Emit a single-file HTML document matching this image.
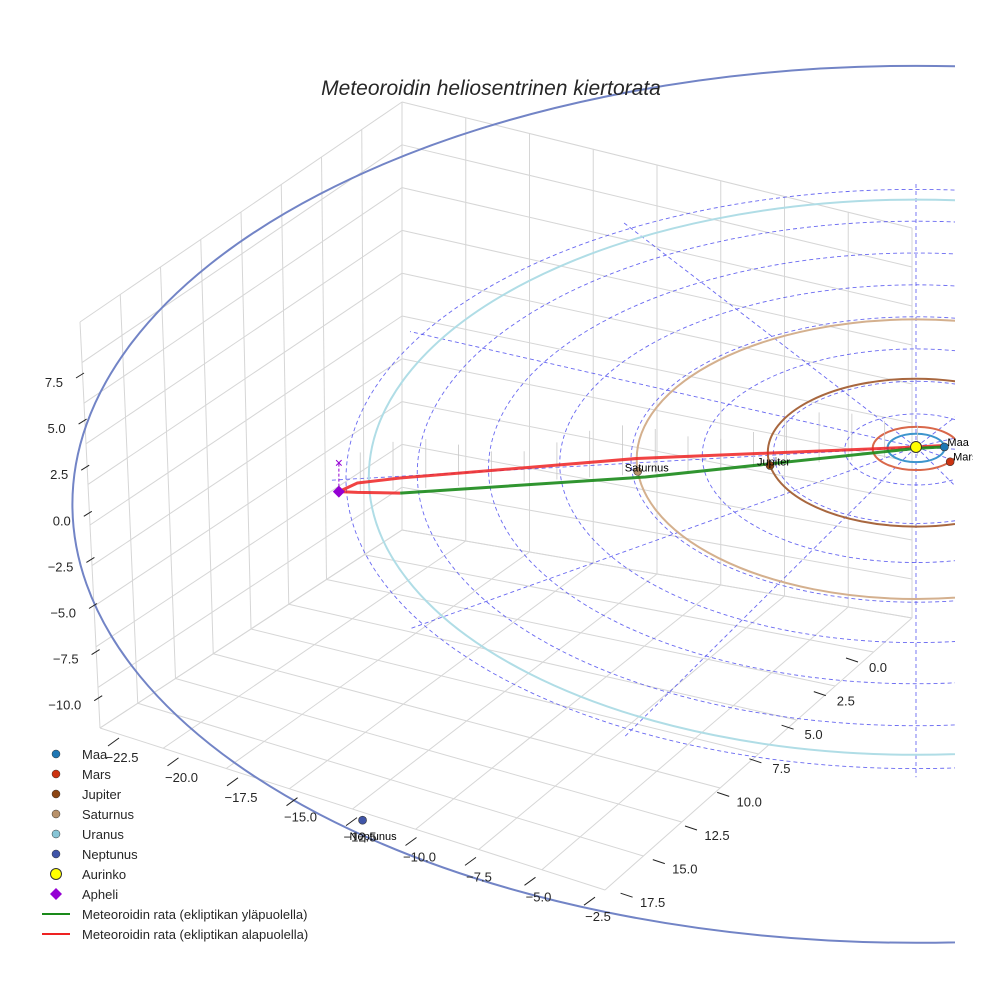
<!DOCTYPE html>
<html><head><meta charset="utf-8"><style>
body{margin:0;background:#fff}
svg{display:block;font-family:"Liberation Sans",sans-serif}
</style></head><body>
<svg id="c" width="984" height="984" viewBox="0 0 984 984">
<defs><clipPath id="clip"><rect x="0" y="0" width="955" height="984"/></clipPath>
<clipPath id="clip2"><rect x="0" y="0" width="973" height="984"/></clipPath></defs>
<g id="grid"></g>
<g id="plot" clip-path="url(#clip)"></g>
<g id="labels" clip-path="url(#clip2)"></g>
<g id="ticks"></g>
<text x="491" y="95" text-anchor="middle" font-size="21" font-style="italic" fill="#262626">Meteoroidin heliosentrinen kiertorata</text>
<g id="legend"></g>
</svg>
<script>
// data
const planetNames = ["Maa","Mars","Jupiter","Saturnus","Uranus","Neptunus"];
const planetA = [1.0,1.52,5.2,9.8,19.2,29.6];
const planetAngleDeg = [-4,38,170,175,-60,131];
const planetColors = ["#1f77b4","#cc3311","#8b4513","#b8916a","#87c5d6","#4055a8"];
const orbitColors = ["#3d95cc","#d9684a","#a8673f","#d4b08e","#b0dde6","#7284c6"];
const showPlanet = [true,true,true,true,false,true];
const ringRadii = [2.5,5,7.5,10,12.5,15,17.5,20];
const radialAngles = [0,30,60,90,120,150,180,210,240,270,300,330];
const zTicks = ["7.5","5.0","2.5","0.0","\u22122.5","\u22125.0","\u22127.5","\u221210.0"];
const xTicks = ["\u221222.5","\u221220.0","\u221217.5","\u221215.0","\u221212.5","\u221210.0","\u22127.5","\u22125.0","\u22122.5"];
const yTicks = ["0.0","2.5","5.0","7.5","10.0","12.5","15.0","17.5"];
const aphelionX = -20.25;
const aphelionY = 3.1;
const upperPathX = [-20.25,-19.6,-18.1,-9.8,0,0.9];
const upperPathY = [3.1,2.5,2.15,0.8,0.0,-0.1];
const lowerPathX = [-20.25,-19.6,-18.1,-9.5,0,0.9];
const lowerPathY = [3.1,3.15,3.2,2.08,0.1,0.0];

const NS="http://www.w3.org/2000/svg";
function mk(parent,tag,attrs){const e=document.createElementNS(NS,tag);for(const k in attrs)e.setAttribute(k,attrs[k]);parent.appendChild(e);return e;}
const SX=916,SY=447,KX=28.5,KY=14.4;
function cyOf(r){return SY+0.035*r*r+0.9*r;}
function kyOf(r){return 14.2+0.0007*r*r;}
function ptOn(r,deg){const t=deg*Math.PI/180;return [SX+KX*r*Math.cos(t),cyOf(r)+kyOf(r)*r*Math.sin(t)];}
function px(x){return SX+KX*x;}
function py(x,y){return SY+KY*y;}

const G=document.getElementById('grid');
function lerp(a,b,t){return [a[0]+(b[0]-a[0])*t,a[1]+(b[1]-a[1])*t];}
function quadGrid(p00,p10,p01,p11,nu,nv,name){
  for(let i=0;i<=nu;i++){const t=i/nu;const a=lerp(p00,p10,t),b=lerp(p01,p11,t);
    const l=mk(G,'line',{x1:a[0],y1:a[1],x2:b[0],y2:b[1],stroke:'#d6d6d6','stroke-width':1});
    }
  for(let j=0;j<=nv;j++){const t=j/nv;const a=lerp(p00,p01,t),b=lerp(p10,p11,t);
    const l=mk(G,'line',{x1:a[0],y1:a[1],x2:b[0],y2:b[1],stroke:'#d6d6d6','stroke-width':1});
    }
}
const LT=[80,322],LB=[100,728],BT=[402,102],BB=[402,530],RT=[912,228],RB=[912,618],FR=[605,890];
quadGrid(LT,BT,LB,BB,8,10,'left-pane');
quadGrid(BT,RT,BB,RB,8,10,'back-pane');
quadGrid(LB,BB,FR,RB,8,8,'floor-pane');

const P=document.getElementById('plot');
ringRadii.forEach(r=>{
  const e=mk(P,'ellipse',{cx:SX,cy:cyOf(r),rx:KX*r,ry:kyOf(r)*r,fill:'none',stroke:'#4444ee','stroke-width':0.9,'stroke-dasharray':'4,3',opacity:0.8});
  
});
radialAngles.forEach(d=>{
  const q=ptOn(20.5,d);
  const l=mk(P,'line',{x1:SX,y1:SY,x2:q[0],y2:q[1],stroke:'#4444ee','stroke-width':0.9,'stroke-dasharray':'4,3',opacity:0.8});
  
});
planetA.forEach((a,i)=>{
  const e=mk(P,'ellipse',{cx:SX,cy:cyOf(a),rx:KX*a,ry:kyOf(a)*a,fill:'none',stroke:orbitColors[i],'stroke-width':2});
  
});
for(let k=0;k<18;k++){const x=-19.5+k*1.15;const yy=SY+(2.6-0.13*(x+19.5))*KY+8;
  const l=mk(P,'line',{x1:px(x),y1:yy,x2:px(x),y2:yy-40-10*Math.sin(k),stroke:'#c8c8c8','stroke-width':0.8});
  }
function pathD(xs,ys){return xs.map((x,i)=>(i?'L':'M')+px(x).toFixed(1)+','+py(x,ys[i]).toFixed(1)).join(' ');}
const red=mk(P,'path',{d:pathD(upperPathX,upperPathY),fill:'none',stroke:'#ee2222','stroke-width':3,opacity:0.85,'stroke-linejoin':'round'});

const grn=mk(P,'path',{d:pathD(lowerPathX.slice(2),lowerPathY.slice(2)),fill:'none',stroke:'#1a8a1a','stroke-width':3,opacity:0.9});

const rs=mk(P,'path',{d:pathD(lowerPathX.slice(0,3),lowerPathY.slice(0,3)),fill:'none',stroke:'#ee2222','stroke-width':3,opacity:0.85});

const ax=px(aphelionX),ay=py(aphelionX,aphelionY);
const ad=mk(P,'line',{x1:ax,y1:ay,x2:ax,y2:ay-28,stroke:'#9400d3','stroke-width':1,'stroke-dasharray':'3,2'});

const axm=mk(P,'text',{x:ax,y:ay-24,'text-anchor':'middle','font-size':14,fill:'#9400d3'});axm.textContent='×';

const dia=mk(P,'path',{d:`M${ax},${ay-6} L${ax+6},${ay} L${ax},${ay+6} L${ax-6},${ay} Z`,fill:'#9400d3'});

const LB2=document.getElementById('labels');
planetA.forEach((a,i)=>{ if(!showPlanet[i])return;
  const q=ptOn(a,planetAngleDeg[i]);
  if(i==5){q[1]-=15;}
  const c=mk(P,'circle',{cx:q[0],cy:q[1],r:4,fill:planetColors[i],stroke:'#333','stroke-width':0.6});
  
  const t=mk(LB2,'text',{x:q[0]+(i<2?3:-13),y:q[1]+(i<2?-1:(i==5?20:0)),'font-size':11,fill:'#000'});
  t.textContent=planetNames[i];
  
});
const sun=mk(P,'circle',{cx:SX,cy:SY,r:5.5,fill:'#ffff00',stroke:'#333','stroke-width':1});


const T=document.getElementById('ticks');
zTicks.forEach((s,i)=>{const y=382+i*46.1;const x=80+i*2.6;
  const l=mk(T,'line',{x1:x-4,y1:y-4,x2:x+4,y2:y-9,stroke:'#222','stroke-width':1});
  
  const t=mk(T,'text',{x:x-17,y:y+5,'font-size':13,fill:'#262626','text-anchor':'end'});t.textContent=s;
  });
xTicks.forEach((s,i)=>{const x=122+i*59.5;const y=757+i*19.9;
  const l=mk(T,'line',{x1:x-14,y1:y-11,x2:x-3,y2:y-19,stroke:'#222','stroke-width':1});
  
  const t=mk(T,'text',{x:x,y:y+5,'font-size':13,fill:'#262626','text-anchor':'middle'});t.textContent=s;
  });
yTicks.forEach((s,i)=>{const x=878-i*32.2;const y=667+i*33.6;
  const l=mk(T,'line',{x1:x-32,y1:y-9,x2:x-20,y2:y-5,stroke:'#222','stroke-width':1});
  
  const t=mk(T,'text',{x:x,y:y+5,'font-size':13,fill:'#262626','text-anchor':'middle'});t.textContent=s;
  });

const L=document.getElementById('legend');
const legLabels=["Maa","Mars","Jupiter","Saturnus","Uranus","Neptunus","Aurinko","Apheli","Meteoroidin rata (ekliptikan yläpuolella)","Meteoroidin rata (ekliptikan alapuolella)"];
legLabels.forEach((s,i)=>{const y=754+i*20;
  let m;
  if(i<6){m=mk(L,'circle',{cx:56,cy:y,r:4,fill:planetColors[i],stroke:'#333','stroke-width':0.5});}
  else if(i==6){m=mk(L,'circle',{cx:56,cy:y,r:5.5,fill:'#ffff00',stroke:'#333','stroke-width':1});}
  else if(i==7){m=mk(L,'path',{d:`M56,${y-6} L62,${y} L56,${y+6} L50,${y} Z`,fill:'#9400d3'});}
  else {m=mk(L,'line',{x1:42,y1:y,x2:70,y2:y,stroke:i==8?'#1a8a1a':'#ee2222','stroke-width':2});}
  
  const t=mk(L,'text',{x:82,y:y+5,'font-size':13,fill:'#262626'});t.textContent=s;
  });
</script>
</body></html>
